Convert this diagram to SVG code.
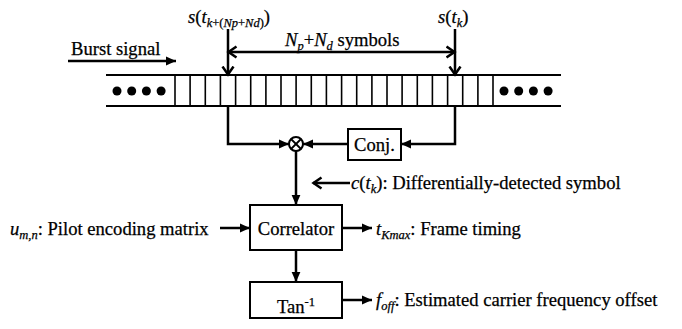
<svg xmlns="http://www.w3.org/2000/svg" width="682" height="329" viewBox="0 0 682 329">
<style>
text{font-family:"Liberation Serif","Times New Roman",serif;font-size:18.6px;fill:#000;stroke:#000;stroke-width:0.25}
.i{font-style:italic}
.s{font-size:12.5px}
.box{fill:#fff;stroke:#000;stroke-width:2}
.ln{fill:none;stroke:#000;stroke-width:2.5}
.tp{fill:none;stroke:#000;stroke-width:2.2}
.cl{stroke:#000;stroke-width:1.6}
.af{marker-end:url(#fa)}
.ao{marker-end:url(#oa)}
</style>
<defs>
<marker id="fa" markerUnits="userSpaceOnUse" markerWidth="11" markerHeight="10" refX="10" refY="5" orient="auto">
<path d="M0,0.6 L10,5 L0,9.4 z" fill="#000"/>
</marker>
<marker id="oa" markerUnits="userSpaceOnUse" markerWidth="12" markerHeight="14" refX="9.5" refY="7" orient="auto">
<path d="M1,1.5 L9,7 L1,12.5" fill="none" stroke="#000" stroke-width="2.5"/>
</marker>
</defs>

<g id="tape">
<line class="tp" x1="106" y1="75" x2="561" y2="75"/>
<line class="tp" x1="106" y1="106" x2="561" y2="106"/>
<g class="cl">
<line x1="175" y1="75" x2="175" y2="106"/>
<line x1="190.1" y1="75" x2="190.1" y2="106"/>
<line x1="205.3" y1="75" x2="205.3" y2="106"/>
<line x1="220.4" y1="75" x2="220.4" y2="106"/>
<line x1="235.6" y1="75" x2="235.6" y2="106"/>
<line x1="250.7" y1="75" x2="250.7" y2="106"/>
<line x1="265.9" y1="75" x2="265.9" y2="106"/>
<line x1="281" y1="75" x2="281" y2="106"/>
<line x1="296.1" y1="75" x2="296.1" y2="106"/>
<line x1="311.3" y1="75" x2="311.3" y2="106"/>
<line x1="326.4" y1="75" x2="326.4" y2="106"/>
<line x1="341.6" y1="75" x2="341.6" y2="106"/>
<line x1="356.7" y1="75" x2="356.7" y2="106"/>
<line x1="371.9" y1="75" x2="371.9" y2="106"/>
<line x1="387" y1="75" x2="387" y2="106"/>
<line x1="402.1" y1="75" x2="402.1" y2="106"/>
<line x1="417.3" y1="75" x2="417.3" y2="106"/>
<line x1="432.4" y1="75" x2="432.4" y2="106"/>
<line x1="447.6" y1="75" x2="447.6" y2="106"/>
<line x1="462.7" y1="75" x2="462.7" y2="106"/>
<line x1="477.9" y1="75" x2="477.9" y2="106"/>
<line x1="493" y1="75" x2="493" y2="106"/>
</g>
<g fill="#000">
<circle cx="117" cy="91" r="4.5"/>
<circle cx="131.7" cy="91" r="4.5"/>
<circle cx="146.4" cy="91" r="4.5"/>
<circle cx="161.1" cy="91" r="4.5"/>
<circle cx="504" cy="91" r="4.5"/>
<circle cx="518.7" cy="91" r="4.5"/>
<circle cx="533.4" cy="91" r="4.5"/>
<circle cx="548.1" cy="91" r="4.5"/>
</g>
</g>

<g id="labels-top">
<text x="71" y="55">Burst signal</text>
<text x="188" y="23"><tspan class="i">s</tspan>(<tspan class="i">t</tspan><tspan class="s" dy="4"><tspan class="i">k</tspan>+(<tspan class="i">Np</tspan>+<tspan class="i">Nd</tspan>)</tspan><tspan dy="-4">)</tspan></text>
<text x="438" y="23"><tspan class="i">s</tspan>(<tspan class="i">t</tspan><tspan class="i s" dy="4">k</tspan><tspan dy="-4">)</tspan></text>
<text x="285" y="46"><tspan class="i">N</tspan><tspan class="i s" dy="4">p</tspan><tspan dy="-4">+</tspan><tspan class="i">N</tspan><tspan class="i s" dy="4">d</tspan><tspan dy="-4"> symbols</tspan></text>
</g>

<g id="multiplier">
<circle cx="296" cy="144" r="7" fill="#fff" stroke="#000" stroke-width="2"/>
<line x1="291" y1="139" x2="301" y2="149" stroke="#000" stroke-width="1.8"/>
<line x1="301" y1="139" x2="291" y2="149" stroke="#000" stroke-width="1.8"/>
</g>

<g id="conj">
<rect class="box" x="348" y="129" width="53" height="31"/>
<text x="374.5" y="151" text-anchor="middle">Conj.</text>
</g>

<g id="correlator">
<rect class="box" x="250" y="205" width="92" height="45"/>
<text x="296" y="235" text-anchor="middle">Correlator</text>
</g>

<g id="tan">
<rect class="box" x="250" y="282" width="92" height="36"/>
<text x="296" y="313" text-anchor="middle">Tan<tspan class="s" dy="-7">-1</tspan></text>
</g>

<g id="connectors">
<line class="ln af" x1="68" y1="61" x2="176" y2="61"/>
<line class="ln ao" x1="228" y1="29" x2="228" y2="75"/>
<line class="ln ao" x1="455" y1="29" x2="455" y2="75"/>
<line class="ln ao" x1="340" y1="52" x2="228" y2="52"/>
<line class="ln ao" x1="340" y1="52" x2="455" y2="52"/>
<polyline class="ln af" points="228,106 228,144 289,144"/>
<polyline class="ln af" points="455,106 455,144 401,144"/>
<line class="ln af" x1="348" y1="144" x2="303" y2="144"/>
<line class="ln af" x1="296" y1="151" x2="296" y2="205"/>
<line class="ln ao" x1="350" y1="183" x2="313" y2="183"/>
<line class="ln af" x1="220" y1="228" x2="250" y2="228"/>
<line class="ln af" x1="342" y1="228" x2="372" y2="228"/>
<line class="ln af" x1="296" y1="250" x2="296" y2="282"/>
<line class="ln af" x1="342" y1="300" x2="372" y2="300"/>
</g>

<g id="labels-side">
<text x="351" y="189"><tspan class="i">c</tspan>(<tspan class="i">t</tspan><tspan class="i s" dy="4">k</tspan><tspan dy="-4">): Differentially-detected symbol</tspan></text>
<text x="10" y="235"><tspan class="i">u</tspan><tspan class="i s" dy="4">m,n</tspan><tspan dy="-4">: Pilot encoding matrix</tspan></text>
<text x="376" y="235"><tspan class="i">t</tspan><tspan class="i s" dy="4">Kmax</tspan><tspan dy="-4">: Frame timing</tspan></text>
<text x="376" y="306"><tspan class="i">f</tspan><tspan class="i s" dy="4">off</tspan><tspan dy="-4">: Estimated carrier frequency offset</tspan></text>
</g>
</svg>
